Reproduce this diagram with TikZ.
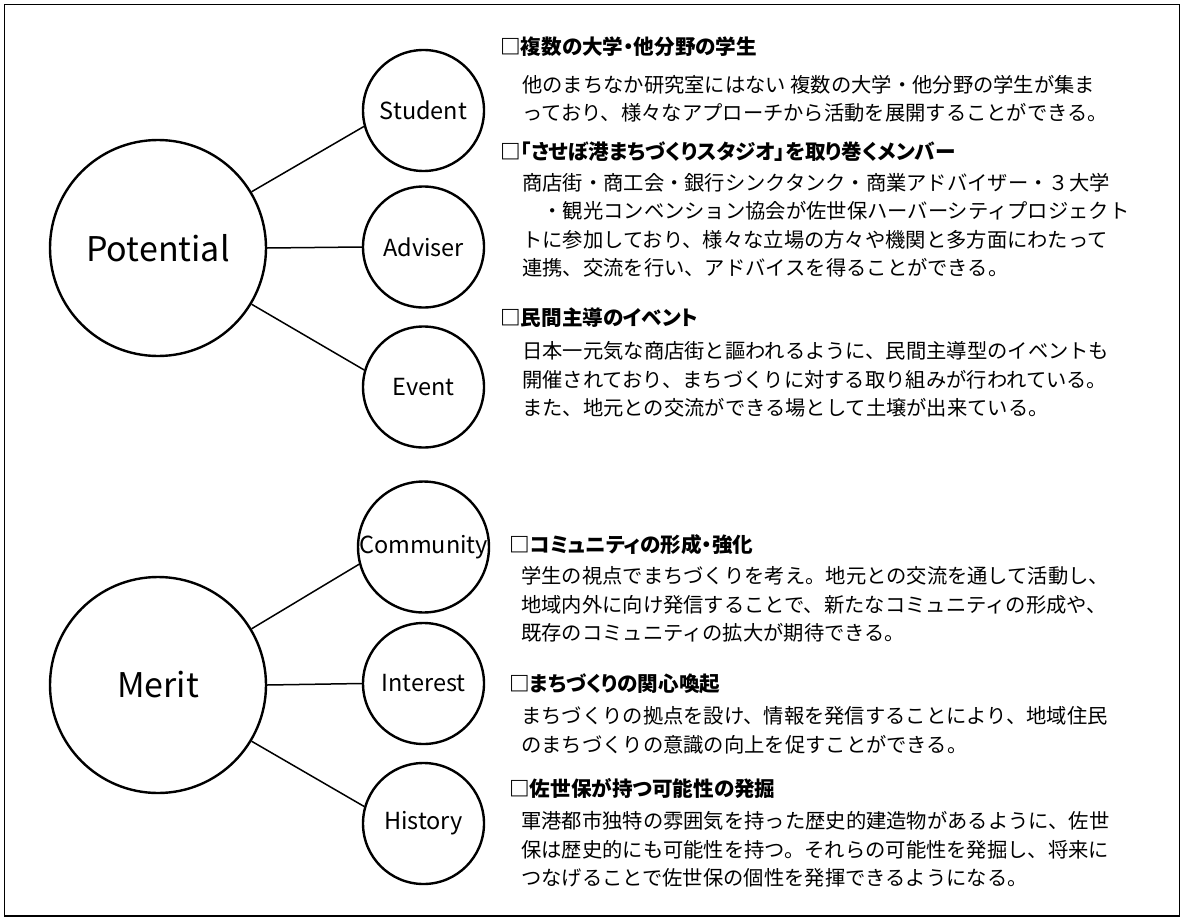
\documentclass[tikz,border=0pt]{standalone}
\usepackage{fontspec}
\newfontfamily\jpbody{Noto Sans CJK JP}
\newfontfamily\jphead[RawFeature=+palt]{Noto Sans CJK JP}
\newfontfamily\lat{Noto Sans CJK JP}
\tikzset{
  bigc/.style={circle, draw, line width=2.4pt, minimum size=216pt, inner sep=0pt, font=\lat\fontsize{34}{34}\selectfont},
  smallc/.style={circle, draw, line width=2.4pt, minimum size=121pt, inner sep=0pt, font=\lat\fontsize{23.5}{24}\selectfont},
  link/.style={line width=1.5pt},
  head/.style={anchor=west, inner sep=0pt, font=\jphead\bfseries\fontsize{20.6}{20}\selectfont},
  body/.style={anchor=west, inner sep=0pt, font=\jpbody\fontsize{20.3}{20}\selectfont},
}
\begin{document}
\begin{tikzpicture}[x=1pt, y=-1pt]
\useasboundingbox (0,0) rectangle (1182,920);
\draw[line width=1.3pt] (4.5,4.5) rectangle (1179.5,916);

% Potential group
\node[bigc] (pot) at (158,248) {Potential};
\node[smallc] (stu) at (423.5,110.5) {Student};
\node[smallc] (adv) at (423.5,247) {Adviser};
\node[smallc] (evt) at (423.5,387) {Event};
\draw[link] (pot.31.7) -- (stu.195.8);
\draw[link] (pot.east) -- (adv.west);
\draw[link] (pot.-31.7) -- (evt.164.2);

% Merit group
\node[bigc] (mer) at (158,685) {Merit};
\node[smallc] (com) at (423.5,547) {Community};
\node[smallc] (int) at (423.5,683.5) {Interest};
\node[smallc] (his) at (423.5,823.5) {History};
\draw[link] (mer.31.7) -- (com.195.8);
\draw[link] (mer.east) -- (int.west);
\draw[link] (mer.-31.7) -- (his.164.2);

% Texts, Potential
\node[head] (h1) at (500,47) {□複数の大学・他分野の学生};
\node[body] (b11) at (522,85) {他のまちなか研究室にはない 複数の大学・他分野の学生が集ま};
\node[body] (b12) at (522,113) {っており、様々なアプローチから活動を展開することができる。};

\node[head] (h2) at (500,152) {□「させぼ港まちづくりスタジオ」を取り巻くメンバー};
\node[body] (b21) at (522,183) {商店街・商工会・銀行シンクタンク・商業アドバイザー・３大学};
\node[body] (b22) at (522,211) {　・観光コンベンション協会が佐世保ハーバーシティプロジェクト};
\node[body] (b23) at (522,240) {トに参加しており、様々な立場の方々や機関と多方面にわたって};
\node[body] (b24) at (522,268) {連携、交流を行い、アドバイスを得ることができる。};

\node[head] (h3) at (500,318) {□民間主導のイベント};
\node[body] (b31) at (522,351) {日本一元気な商店街と謳われるように、民間主導型のイベントも};
\node[body] (b32) at (522,380) {開催されており、まちづくりに対する取り組みが行われている。};
\node[body] (b33) at (522,408) {また、地元との交流ができる場として土壌が出来ている。};

% Texts, Merit
\node[head] (h4) at (509,545) {□コミュニティの形成・強化};
\node[body] (b41) at (521,576) {学生の視点でまちづくりを考え。地元との交流を通して活動し、};
\node[body] (b42) at (521,605) {地域内外に向け発信することで、新たなコミュニティの形成や、};
\node[body] (b43) at (521,633) {既存のコミュニティの拡大が期待できる。};

\node[head] (h5) at (509,684) {□まちづくりの関心喚起};
\node[body] (b51) at (521,716) {まちづくりの拠点を設け、情報を発信することにより、地域住民};
\node[body] (b52) at (521,745) {のまちづくりの意識の向上を促すことができる。};

\node[head] (h6) at (509,788) {□佐世保が持つ可能性の発掘};
\node[body] (b61) at (521,821) {軍港都市独特の雰囲気を持った歴史的建造物があるように、佐世};
\node[body] (b62) at (521,850) {保は歴史的にも可能性を持つ。それらの可能性を発掘し、将来に};
\node[body] (b63) at (521,878) {つなげることで佐世保の個性を発揮できるようになる。};
\end{tikzpicture}
\end{document}
